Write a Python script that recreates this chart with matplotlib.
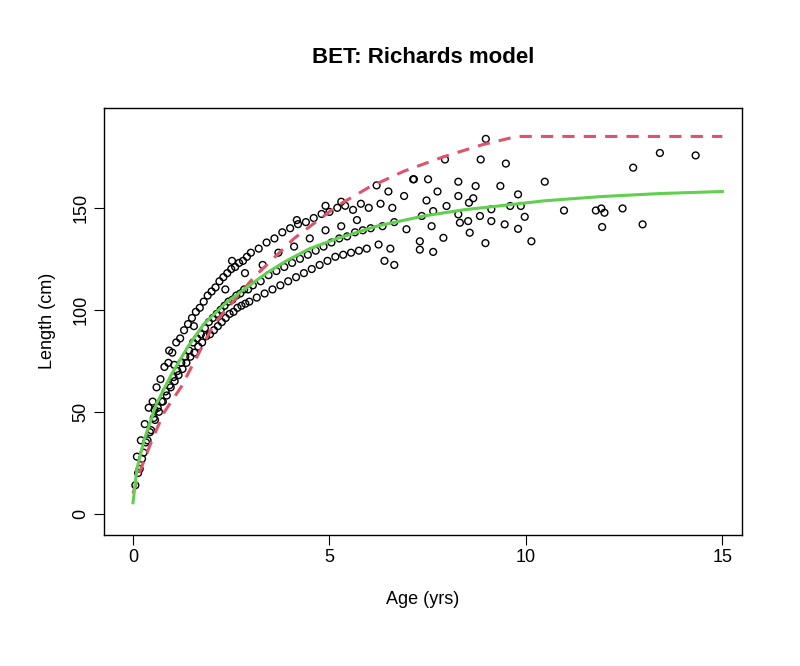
import matplotlib
matplotlib.use("Agg")
import matplotlib.pyplot as plt

plt.rcParams['font.family'] = ['Liberation Sans', 'DejaVu Sans']

obs = [
    (0.1, 28), (0.13, 20), (0.06, 14), (0.2, 36), (0.23, 27), (0.17, 22),
    (0.3, 44), (0.33, 35), (0.27, 30), (0.4, 52), (0.43, 40), (0.37, 36),
    (0.5, 55), (0.53, 47), (0.46, 41), (0.6, 62), (0.63, 52), (0.56, 46),
    (0.7, 66), (0.73, 55), (0.66, 50), (0.8, 72), (0.83, 60), (0.76, 55),
    (0.9, 74), (0.93, 63), (0.86, 58), (1.0, 79), (1.03, 67), (0.96, 62),
    (1.1, 84), (1.13, 70), (1.06, 65), (1.2, 86), (1.23, 74), (1.16, 68),
    (1.3, 90), (1.33, 77), (1.26, 71), (1.4, 93), (1.43, 80), (1.36, 74),
    (1.5, 96), (1.53, 84), (1.46, 77), (1.6, 99), (1.63, 86), (1.56, 79),
    (1.7, 101), (1.73, 88), (1.66, 82), (1.8, 104), (1.83, 91), (1.76, 84),
    (1.9, 107), (1.93, 94), (1.86, 87), (2.0, 109), (2.03, 96), (1.96, 88),
    (2.1, 111), (2.13, 98), (2.06, 90), (2.2, 114), (2.23, 100), (2.16, 92),
    (2.3, 116), (2.33, 102), (2.26, 94), (2.4, 118), (2.43, 104), (2.36, 96),
    (2.5, 120), (2.53, 105), (2.46, 98), (2.6, 121), (2.63, 107), (2.56, 99),
    (2.7, 123), (2.73, 108), (2.66, 101), (2.8, 124), (2.83, 110), (2.76, 102),
    (2.9, 126), (2.93, 110), (2.86, 103), (3.0, 128), (3.05, 112), (2.96, 104),
    (3.2, 130), (3.25, 114), (3.15, 106), (3.4, 133), (3.45, 117), (3.35, 108),
    (3.6, 135), (3.65, 119), (3.55, 110), (3.8, 138), (3.85, 121), (3.75, 112),
    (4.0, 140), (4.05, 123), (3.95, 114), (4.2, 142), (4.25, 125), (4.15, 116),
    (4.4, 143), (4.45, 127), (4.35, 118), (4.6, 145), (4.65, 129), (4.55, 120),
    (4.8, 147), (4.85, 131), (4.75, 122), (5.0, 148), (5.05, 133), (4.95, 124),
    (5.2, 150), (5.25, 135), (5.15, 126), (5.4, 151), (5.45, 136), (5.35, 127),
    (5.6, 149), (5.65, 138), (5.55, 128), (5.8, 152), (5.85, 139), (5.75, 129),
    (6.0, 150), (6.05, 140), (5.95, 130), (6.3, 152), (6.35, 141), (6.25, 132),
    (6.6, 150), (6.65, 143), (6.55, 130),
    (1.55, 92), (2.35, 110), (2.85, 118), (3.3, 122), (3.7, 128), (4.1, 131),
    (4.5, 135), (4.9, 139), (5.3, 141), (5.7, 144), (1.05, 73), (0.55, 51),
    (0.92, 80), (2.52, 124), (4.17, 144), (4.9, 151), (5.3, 153), (6.2, 161),
    (6.5, 158), (7.15, 164), (6.65, 122), (6.4, 124),
    (8.98, 183.8), (7.94, 173.7), (8.85, 173.7), (9.49, 171.7), (13.41, 176.9),
    (14.32, 175.7), (12.73, 169.7), (10.48, 162.8), (10.97, 148.7), (11.78, 148.7),
    (11.92, 149.7), (12.0, 147.6), (11.94, 140.6), (12.46, 149.7), (12.97, 141.9),
    (10.14, 133.6), (9.8, 156.6), (9.97, 145.6), (9.8, 139.7), (9.35, 160.7),
    (8.97, 132.7), (7.64, 128.4), (7.3, 129.5), (8.72, 160.7), (8.28, 162.8),
    (7.51, 164), (7.13, 164), (6.9, 155.8), (7.75, 158), (7.47, 153.6),
    (8.28, 155.8), (8.66, 154.7), (9.6, 150.9), (9.87, 150.9), (9.12, 149.3),
    (8.83, 146), (9.12, 143.5), (9.46, 141.9), (8.57, 137.8), (8.32, 142.7),
    (7.9, 135.3), (7.6, 141), (7.3, 133.6), (6.96, 139.5), (7.98, 150.9),
    (7.64, 148.4), (7.35, 146), (8.55, 152.5), (8.53, 143.5), (8.28, 146.8),
]
age_obs = [a for a, _ in obs]
len_obs = [l for _, l in obs]

# fitted curves
age_red = [0, 0.2, 0.5, 0.8, 1.22, 2.06, 3.08, 4.1, 5.2, 6.0, 6.9, 7.9, 8.9, 9.77, 15]
len_red = [10, 22, 37, 50, 62, 93, 116, 135, 151, 160, 168, 175, 181, 185, 185]
age_green = [0, 0.1, 0.28, 0.6, 0.97, 1.4, 1.8, 2.4, 2.9, 3.4, 3.9, 4.5, 5.2, 6.2, 7.4, 8.4,
             9.34, 10.5, 11.9, 13.4, 15]
len_green = [5.4, 22, 36, 54, 68, 82, 93, 104, 111, 118, 124, 130, 135, 141, 146, 149,
             151, 153.5, 155.5, 157, 158]

fig = plt.figure(figsize=(8, 6.66), dpi=100)
ax = fig.add_axes([0.13, 0.197, 0.7975, 0.641])

ax.scatter(age_obs, len_obs, s=24, facecolors='none', edgecolors='black', linewidths=1)
ax.plot(age_red, len_red, color='#DF536B', lw=2.2, ls=(0, (4, 3)))
ax.plot(age_green, len_green, color='#61D04F', lw=2.2)

ax.set_xlim(-0.738, 15.5)
ax.set_ylim(-10.3, 199)
ax.set_xticks([0, 5, 10, 15])
ax.set_yticks([0, 50, 100, 150])
ax.set_yticklabels(['0', '50', '100', '150'], rotation=90, va='center')
ax.tick_params(labelsize=13, length=7, direction='out')
for sp in ax.spines.values():
    sp.set_linewidth(1)
ax.set_xlabel('Age (yrs)', fontsize=13, labelpad=18)
ax.set_ylabel('Length (cm)', fontsize=13, labelpad=12)
ax.set_title('BET: Richards model', fontsize=16, fontweight='bold', pad=32)

plt.savefig('out.png', dpi=100)
